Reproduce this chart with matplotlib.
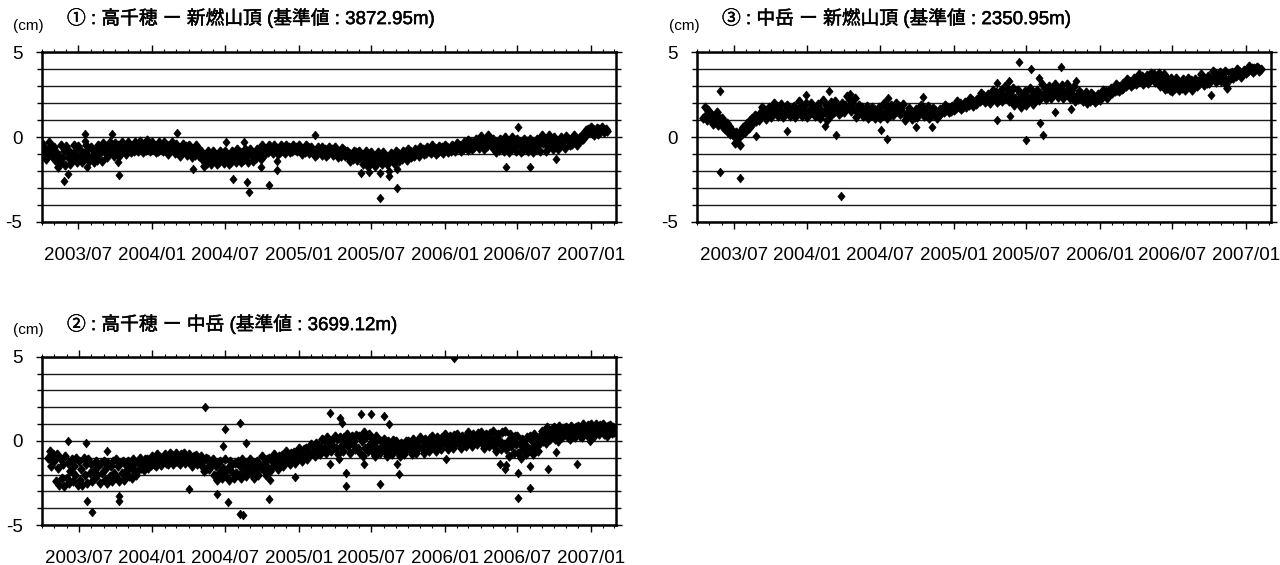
import numpy as np
import pandas as pd
import matplotlib
matplotlib.use("Agg")
import matplotlib.pyplot as plt
import matplotlib.dates as mdates
import matplotlib.patheffects as pe
from matplotlib.ticker import FixedLocator

nan = np.nan

# ---------------- data (cm), ten readings per month, 3 days apart ----------------
months = pd.date_range("2003-04-01", "2007-02-01", freq="MS")  # 47 months
day_steps = [0, 3, 6, 9, 12, 15, 18, 21, 24, 27]

# Panel 1 : 高千穂 - 新燃山頂
p1_rows = [
    [-0.35, -0.95, -0.6, -1.3, -0.75, -1.1, -0.3, -0.9, -0.55, -1.2],    # 2003-04
    [-0.6, -1.35, -0.9, -1.8, -1.1, -1.55, -0.5, -1.25, -0.8, -1.65],
    [-0.55, -1.2, -0.85, -1.6, -1.0, -1.4, -0.5, -1.15, -0.75, -1.5],
    [-0.55, -1.1, -0.8, -1.5, -0.95, -1.3, -0.5, -1.05, -0.7, -1.4],     # 2003-07
    [-0.6, -1.1, -0.75, -1.5, -0.9, -1.35, -0.5, -1.0, -0.7, -1.4],
    [-0.35, -0.85, -0.55, -1.2, -0.7, -1.0, -0.3, -0.8, -0.5, -1.1],
    [-0.35, -0.8, -0.5, -1.1, -0.65, -0.95, -0.3, -0.75, -0.5, -1.0],
    [-0.3, -0.65, -0.45, -0.9, -0.55, -0.8, -0.3, -0.6, -0.45, -0.85],
    [-0.25, -0.6, -0.4, -0.9, -0.5, -0.75, -0.2, -0.55, -0.4, -0.85],
    [-0.3, -0.65, -0.45, -0.9, -0.55, -0.8, -0.3, -0.6, -0.45, -0.85],   # 2004-01
    [-0.3, -0.7, -0.5, -1.0, -0.6, -0.85, -0.3, -0.65, -0.45, -0.95],
    [-0.4, -0.8, -0.6, -1.1, -0.7, -0.95, -0.4, -0.75, -0.55, -1.05],
    [-0.5, -0.9, -0.7, -1.2, -0.8, -1.05, -0.5, -0.85, -0.65, -1.15],
    [-0.85, -1.3, -1.05, -1.7, -1.2, -1.55, -0.8, -1.25, -1.0, -1.6],
    [-0.8, -1.25, -1.0, -1.6, -1.15, -1.45, -0.8, -1.2, -0.95, -1.55],
    [-0.85, -1.25, -1.05, -1.6, -1.15, -1.45, -0.8, -1.2, -1.0, -1.5],   # 2004-07
    [-0.7, -1.15, -0.9, -1.5, -1.05, -1.35, -0.7, -1.1, -0.85, -1.45],
    [-0.7, -1.05, -0.9, -1.4, -1.0, -1.25, -0.7, -1.0, -0.85, -1.3],
    [-0.5, -0.8, -0.65, -1.0, -0.75, -0.9, -0.5, -0.75, -0.6, -0.95],
    [-0.5, -0.75, -0.65, -1.0, -0.7, -0.9, -0.5, -0.8, -0.6, -0.95],
    [-0.5, -0.75, -0.6, -0.9, -0.7, -0.85, -0.5, -0.7, -0.6, -0.85],
    [-0.5, -0.8, -0.65, -1.0, -0.7, -0.9, -0.5, -0.75, -0.6, -0.95],     # 2005-01
    [-0.6, -0.9, -0.75, -1.1, -0.8, -1.0, -0.6, -0.85, -0.7, -1.05],
    [-0.6, -0.9, -0.7, -1.1, -0.85, -1.0, -0.6, -0.85, -0.7, -1.05],
    [-0.6, -0.95, -0.8, -1.2, -0.9, -1.1, -0.65, -0.9, -0.75, -1.15],
    [-0.8, -1.1, -0.95, -1.4, -1.05, -1.3, -0.8, -1.1, -0.9, -1.35],
    [-0.85, -1.2, -1.0, -1.6, -1.15, -1.45, -0.8, -1.25, -1.0, -1.55],
    [-0.9, -1.3, -1.1, -1.7, -1.25, -1.55, -0.9, -1.3, -1.05, -1.6],     # 2005-07
    [-0.9, -1.25, -1.1, -1.6, -1.2, -1.5, -0.95, -1.3, -1.05, -1.55],
    [-0.8, -1.1, -0.95, -1.4, -1.05, -1.3, -0.8, -1.1, -0.9, -1.35],
    [-0.7, -0.95, -0.85, -1.2, -0.9, -1.1, -0.7, -0.95, -0.8, -1.15],
    [-0.6, -0.8, -0.7, -1.0, -0.8, -0.95, -0.6, -0.85, -0.7, -0.95],
    [-0.5, -0.8, -0.65, -1.0, -0.7, -0.9, -0.55, -0.8, -0.6, -0.95],
    [-0.5, -0.75, -0.6, -0.9, -0.7, -0.85, -0.5, -0.7, -0.6, -0.85],     # 2006-01
    [-0.35, -0.6, -0.45, -0.8, -0.55, -0.7, -0.3, -0.6, -0.4, -0.75],
    [-0.15, -0.45, -0.3, -0.7, -0.4, -0.6, -0.1, -0.45, -0.25, -0.65],
    [0.05, -0.35, -0.15, -0.7, -0.3, -0.55, 0.1, -0.3, -0.1, -0.6],
    [-0.1, -0.5, -0.3, -0.9, -0.45, -0.75, -0.1, -0.5, -0.25, -0.8],
    [0.0, -0.45, -0.25, -0.9, -0.4, -0.7, 0.0, -0.5, -0.2, -0.8],
    [-0.1, -0.5, -0.3, -0.9, -0.45, -0.75, -0.1, -0.5, -0.25, -0.85],    # 2006-07
    [-0.1, -0.45, -0.3, -0.9, -0.4, -0.7, -0.1, -0.5, -0.25, -0.8],
    [0.1, -0.35, -0.15, -0.8, -0.3, -0.6, 0.1, -0.4, -0.1, -0.7],
    [0.0, -0.35, -0.2, -0.7, -0.3, -0.55, 0.0, -0.35, -0.15, -0.65],
    [0.05, -0.2, -0.1, -0.5, -0.25, -0.4, 0.1, -0.2, -0.05, -0.45],
    [-0.3, 0.0, -0.15, 0.1, -0.1, 0.25, 0.4, 0.15, 0.5, 0.3],
    [0.6, 0.25, 0.45, 0.1, 0.35, 0.55, 0.2, 0.5, 0.3, 0.6],              # 2007-01
    [0.5, 0.3, 0.45, 0.35, nan, nan, nan, nan, nan, nan],
]
p1_out_dates = ["2003-05-27", "2003-06-06", "2003-07-17", "2003-07-17", "2003-07-23",
                "2003-09-24", "2003-10-07", "2003-10-11", "2004-03-03", "2004-04-13",
                "2004-07-03", "2004-07-21", "2004-08-18", "2004-08-26", "2004-08-29",
                "2004-09-29", "2004-10-18", "2004-11-09", "2004-11-09", "2005-02-10",
                "2005-06-06", "2005-06-24", "2005-06-26", "2005-07-24", "2005-07-24",
                "2005-08-14", "2005-08-16", "2005-09-04", "2005-09-04", "2006-06-03",
                "2006-07-02", "2006-08-02", "2006-10-05"]
p1_out_vals = [-2.6, -2.2, 0.15, -0.25, -1.8,
               0.15, -1.5, -2.25, 0.25, -1.9,
               -0.3, -2.45, -0.3, -2.65, -3.25,
               -1.8, -2.85, -1.4, -1.95, 0.1,
               -2.15, -1.8, -2.05, -3.6, -2.15,
               -2.3, -2.0, -3.0, -1.9, -1.8,
               0.6, -1.75, -1.3]

# Panel 3 : 中岳 - 新燃山頂
p3_rows = [
    [nan, nan, nan, nan, nan, 1.1, 1.8, 1.3, 1.0, 1.6],                  # 2003-04
    [1.5, 1.0, 1.3, 0.75, 1.2, 0.9, 1.45, 0.7, 1.1, 0.85],
    [1.1, 0.6, 0.9, 0.45, 0.8, 0.3, 0.65, 0.2, 0.5, 0.1],
    [0.1, -0.35, 0.3, -0.1, 0.0, -0.45, 0.4, 0.15, 0.6, 0.3],            # 2003-07
    [0.4, 0.8, 0.55, 1.0, 0.7, 1.15, 0.85, 1.3, 0.95, 1.2],
    [1.0, 1.4, 1.2, 1.75, 1.3, 1.6, 1.05, 1.5, 1.25, 1.8],
    [1.2, 1.6, 1.4, 2.0, 1.5, 1.85, 1.25, 1.7, 1.45, 1.95],
    [1.2, 1.55, 1.4, 1.9, 1.5, 1.75, 1.25, 1.65, 1.4, 1.85],
    [1.2, 1.6, 1.4, 2.1, 1.55, 1.85, 1.25, 1.7, 1.45, 2.0],
    [1.2, 1.6, 1.4, 2.0, 1.5, 1.8, 1.25, 1.65, 1.4, 1.95],               # 2004-01
    [1.1, 1.6, 1.35, 2.2, 1.5, 1.9, 1.0, 1.7, 1.3, 2.05],
    [1.3, 1.7, 1.5, 2.1, 1.6, 1.9, 1.35, 1.75, 1.5, 2.0],
    [1.5, 1.9, 1.7, 2.4, 1.8, 2.2, 1.55, 2.0, 1.7, 2.3],
    [1.2, 1.55, 1.4, 1.9, 1.5, 1.75, 1.25, 1.6, 1.35, 1.85],
    [1.1, 1.45, 1.3, 1.8, 1.4, 1.65, 1.15, 1.5, 1.25, 1.75],
    [1.1, 1.5, 1.3, 2.0, 1.45, 1.8, 1.15, 1.6, 1.3, 1.9],                # 2004-07
    [1.3, 1.65, 1.5, 2.0, 1.55, 1.85, 1.35, 1.7, 1.45, 1.95],
    [1.0, 1.35, 1.2, 1.7, 1.3, 1.55, 1.05, 1.4, 1.2, 1.65],
    [1.2, 1.55, 1.4, 1.9, 1.5, 1.75, 1.25, 1.6, 1.35, 1.85],
    [1.1, 1.4, 1.3, 1.7, 1.35, 1.6, 1.15, 1.45, 1.3, 1.65],
    [1.4, 1.65, 1.5, 1.9, 1.6, 1.8, 1.45, 1.7, 1.55, 1.85],
    [1.6, 1.85, 1.7, 2.1, 1.8, 2.0, 1.65, 1.9, 1.75, 2.05],              # 2005-01
    [1.8, 2.05, 1.9, 2.3, 2.0, 2.2, 1.85, 2.1, 1.95, 2.25],
    [2.0, 2.3, 2.15, 2.6, 2.25, 2.5, 2.05, 2.35, 2.2, 2.55],
    [2.0, 2.4, 2.2, 2.8, 2.3, 2.65, 2.05, 2.5, 2.2, 2.75],
    [2.1, 2.5, 2.3, 3.0, 2.45, 2.8, 2.15, 2.6, 2.35, 2.9],
    [1.9, 2.3, 2.1, 2.8, 2.2, 2.6, 1.8, 2.4, 2.05, 2.7],
    [1.9, 2.4, 2.15, 2.9, 2.3, 2.7, 1.95, 2.5, 2.2, 2.8],                # 2005-07
    [2.2, 2.6, 2.4, 3.1, 2.5, 2.9, 2.25, 2.7, 2.45, 3.0],
    [2.3, 2.7, 2.5, 3.1, 2.6, 2.95, 2.35, 2.75, 2.5, 3.05],
    [2.3, 2.65, 2.45, 3.1, 2.6, 2.9, 2.3, 2.75, 2.5, 3.0],
    [2.1, 2.4, 2.25, 2.7, 2.35, 2.6, 2.15, 2.45, 2.3, 2.65],
    [2.0, 2.3, 2.15, 2.6, 2.25, 2.5, 2.05, 2.35, 2.2, 2.55],
    [2.2, 2.5, 2.35, 2.8, 2.45, 2.7, 2.3, 2.6, 2.5, 2.9],                # 2006-01
    [2.6, 2.85, 2.7, 3.1, 2.8, 3.0, 2.7, 2.95, 2.85, 3.2],
    [2.9, 3.15, 3.0, 3.4, 3.1, 3.3, 3.0, 3.25, 3.15, 3.5],
    [3.1, 3.4, 3.25, 3.7, 3.35, 3.6, 3.15, 3.45, 3.3, 3.65],
    [3.2, 3.5, 3.35, 3.8, 3.45, 3.7, 3.25, 3.55, 3.4, 3.75],
    [3.0, 3.4, 3.2, 3.7, 2.85, 3.55, 2.9, 3.3, 2.8, 3.5],
    [2.7, 3.1, 2.9, 3.5, 3.0, 3.3, 2.75, 3.2, 2.9, 3.4],                 # 2006-07
    [2.75, 3.1, 2.95, 3.5, 3.05, 3.35, 2.8, 3.2, 2.95, 3.45],
    [3.0, 3.3, 3.15, 3.7, 3.25, 3.55, 3.05, 3.4, 3.2, 3.6],
    [3.2, 3.5, 3.35, 3.9, 3.45, 3.75, 3.25, 3.6, 3.4, 3.85],
    [3.3, 3.6, 3.45, 3.9, 3.1, 2.9, 3.4, 3.75, 3.5, 3.85],
    [3.5, 3.75, 3.6, 4.0, 3.7, 3.9, 3.55, 3.8, 3.7, 3.95],
    [3.8, 4.0, 3.9, 4.2, 3.95, 4.1, 3.85, 4.05, 3.95, 4.15],             # 2007-01
    [4.05, 3.9, 4.0, nan, nan, nan, nan, nan, nan, nan],
]
p3_out_dates = ["2003-05-28", "2003-05-28", "2003-07-17", "2003-08-26", "2003-11-10",
                "2003-12-29", "2004-02-13", "2004-02-25", "2004-03-13", "2004-03-25",
                "2004-04-17", "2004-07-03", "2004-07-18", "2004-07-21", "2004-09-29",
                "2004-10-15", "2004-11-08", "2005-04-19", "2005-04-19", "2005-05-20",
                "2005-05-22", "2005-06-14", "2005-06-30", "2005-07-13", "2005-08-03",
                "2005-08-05", "2005-08-13", "2005-09-12", "2005-09-26", "2005-10-21",
                "2005-11-02", "2006-10-07"]
p3_out_vals = [2.7, -2.05, -2.4, 0.05, 0.35,
               2.5, 0.65, 2.7, 0.1, -3.5,
               2.55, 0.4, -0.1, 2.3, 0.6,
               2.35, 0.6, 1.0, 3.2, 3.3,
               1.25, 4.4, -0.15, 4.0, 3.5,
               0.85, 0.1, 1.45, 4.15, 1.65,
               3.3, 2.45]

# Panel 2 : 高千穂 - 中岳
p2_rows = [
    [nan, nan, nan, nan, nan, -1.0, -0.6, -1.5, -1.2, -0.8],             # 2003-04
    [-1.2, -2.4, -0.8, -1.6, -2.6, -1.0, -2.2, -1.4, -2.7, -0.9],
    [-2.2, -1.3, -2.5, -1.8, -1.1, -2.4, -1.5, -2.0, -1.0, -2.6],
    [-1.2, -2.3, -1.7, -2.6, -1.0, -2.0, -1.4, -2.5, -1.1, -1.9],        # 2003-07
    [-1.4, -2.4, -1.8, -2.2, -1.2, -2.0, -1.5, -2.5, -1.3, -1.9],
    [-1.2, -2.3, -1.6, -2.5, -1.3, -2.1, -1.5, -2.4, -1.2, -1.9],
    [-1.1, -2.2, -1.5, -2.4, -1.3, -1.9, -1.2, -2.3, -1.4, -1.8],
    [-1.2, -2.1, -1.5, -2.2, -1.1, -1.8, -1.3, -2.0, -1.2, -1.7],
    [-1.0, -1.6, -1.3, -1.75, -1.1, -1.5, -1.05, -1.6, -1.2, -1.45],
    [-0.9, -1.4, -1.1, -1.5, -0.8, -1.25, -0.95, -1.45, -1.05, -1.2],    # 2004-01
    [-0.8, -1.3, -1.0, -1.4, -0.7, -1.15, -0.85, -1.35, -0.95, -1.2],
    [-0.75, -1.25, -0.95, -1.4, -0.8, -1.1, -0.7, -1.3, -0.9, -1.15],
    [-0.8, -1.3, -1.0, -1.5, -0.9, -1.2, -0.85, -1.4, -1.0, -1.25],
    [-0.9, -1.5, -1.2, -1.8, -1.0, -1.6, -1.1, -1.7, -1.3, -1.4],
    [-1.1, -2.0, -1.5, -2.3, -1.3, -1.9, -1.2, -2.2, -1.6, -1.8],
    [-1.1, -2.1, -1.6, -2.3, -1.2, -1.8, -1.4, -2.2, -1.3, -1.9],        # 2004-07
    [-1.2, -2.0, -1.5, -2.2, -1.1, -1.8, -1.3, -2.1, -1.4, -1.7],
    [-1.1, -1.9, -1.4, -2.2, -1.3, -1.7, -1.2, -2.0, -1.5, -1.6],
    [-0.9, -1.7, -1.3, -2.0, -1.1, -1.6, -1.0, -1.8, -1.2, -1.5],
    [-0.8, -1.4, -1.1, -1.7, -0.9, -1.3, -0.85, -1.5, -1.0, -1.2],
    [-0.6, -1.2, -0.9, -1.4, -0.7, -1.1, -0.65, -1.3, -0.8, -1.0],
    [-0.4, -1.0, -0.6, -1.2, -0.5, -0.9, -0.45, -1.1, -0.6, -0.8],       # 2005-01
    [-0.2, -0.7, -0.3, -0.9, -0.1, -0.6, -0.25, -0.8, -0.35, -0.5],
    [0.1, -0.5, 0.0, -0.7, 0.2, -0.4, -0.1, -0.6, 0.05, -0.3],
    [0.3, -0.4, 0.1, -0.8, 0.2, -0.3, 0.0, -0.6, 0.25, -0.2],
    [0.4, -0.3, 0.1, -0.7, 0.3, -0.2, 0.0, -0.5, 0.35, -0.4],
    [0.3, -0.7, 0.0, -0.9, 0.5, -0.4, 0.2, -0.6, 0.4, -0.2],
    [0.2, -0.6, -0.1, -0.9, 0.3, -0.5, 0.1, -0.7, 0.0, -0.3],            # 2005-07
    [0.1, -0.6, -0.3, -0.9, 0.0, -0.5, -0.2, -0.8, 0.05, -0.4],
    [0.0, -0.6, -0.3, -0.9, -0.1, -0.5, -0.2, -0.8, 0.0, -0.4],
    [0.0, -0.5, -0.2, -0.8, 0.1, -0.45, -0.15, -0.7, 0.05, -0.35],
    [0.2, -0.4, 0.0, -0.7, 0.1, -0.3, -0.05, -0.6, 0.15, -0.25],
    [0.3, -0.3, 0.05, -0.6, 0.2, -0.2, 0.0, -0.5, 0.25, -0.15],
    [0.4, -0.2, 0.1, -0.5, 0.3, -0.1, 0.05, -0.4, 0.35, -0.05],          # 2006-01
    [0.4, -0.1, 0.15, -0.4, 0.3, 0.0, 0.1, -0.3, 0.35, 0.05],
    [0.5, 0.0, 0.25, -0.3, 0.4, 0.05, 0.2, -0.2, 0.45, 0.1],
    [0.5, -0.1, 0.2, -0.4, 0.4, 0.0, 0.15, -0.3, 0.45, 0.05],
    [0.6, -0.3, 0.1, -0.6, 0.4, -0.1, 0.0, -0.5, 0.5, -0.2],
    [0.6, -0.5, 0.0, -0.9, 0.4, -0.3, 0.1, -0.7, 0.3, -0.2],
    [0.3, -0.7, -0.2, -1.0, 0.1, -0.5, -0.1, -0.8, 0.2, -0.4],           # 2006-07
    [0.3, -0.5, 0.0, -0.8, 0.4, -0.3, 0.1, -0.6, 0.2, -0.1],
    [0.6, 0.0, 0.4, -0.1, 0.8, 0.2, 0.5, 0.1, 0.7, 0.3],
    [0.8, 0.1, 0.5, 0.0, 0.9, 0.3, 0.6, 0.2, 0.75, 0.4],
    [0.85, 0.2, 0.6, 0.1, 0.9, 0.4, 0.7, 0.25, 0.8, 0.45],
    [0.9, 0.3, 0.7, 0.2, 1.0, 0.5, 0.8, 0.35, 0.95, 0.55],
    [1.0, 0.35, 0.7, 0.3, 1.0, 0.55, 0.85, 0.4, 0.95, 0.6],              # 2007-01
    [1.0, 0.4, 0.8, 0.3, 0.9, 0.6, 0.95, 0.45, 0.85, 0.55],
]
p2_out_dates = ["2003-06-04", "2003-07-18", "2003-07-22", "2003-08-03", "2003-09-10",
                "2003-10-09", "2003-10-09", "2004-04-01", "2004-05-11", "2004-06-11",
                "2004-06-26", "2004-06-30", "2004-07-08", "2004-08-08", "2004-08-08",
                "2004-08-15", "2004-08-23", "2004-10-18", "2004-10-20", "2004-12-22",
                "2005-03-19", "2005-03-21", "2005-04-11", "2005-04-15", "2005-04-20",
                "2005-04-30", "2005-04-30", "2005-06-05", "2005-06-12", "2005-06-30",
                "2005-07-24", "2005-08-01", "2005-08-15", "2005-09-03", "2005-09-09",
                "2006-01-04", "2006-01-23", "2006-05-18", "2006-06-01", "2006-06-03",
                "2006-07-02", "2006-07-03", "2006-08-02", "2006-08-02", "2006-09-17",
                "2006-10-05", "2006-11-27", "2006-12-29"]
p2_out_vals = [0.0, -0.15, -3.55, -4.25, -0.6,
               -3.3, -3.6, -2.85, 2.0, -3.15,
               -0.3, 0.7, -3.65, 1.05, -4.35,
               -4.4, -0.1, -3.45, -2.3, -2.15,
               -1.4, 1.65, -1.05, 1.35, 1.05,
               -1.9, -2.7, 1.6, -1.35, 1.6,
               -2.55, 1.5, 1.0, -1.35, -1.95,
               -1.05, 4.95, -1.4, -1.65, -1.45,
               -3.4, -1.9, -1.5, -2.8, -1.65,
               -0.65, -1.35, 0.0]

titles = ["\u2460 : 高千穂 ー 新燃山頂 (基準値 : 3872.95m)",
          "\u2462 : 中岳 ー 新燃山頂 (基準値 : 2350.95m)",
          "\u2461 : 高千穂 ー 中岳 (基準値 : 3699.12m)"]
unit_label = "(cm)"
y_major = [-5, 0, 5]
y_minor = [-4, -3, -2, -1, 1, 2, 3, 4]

# ---------------- figure ----------------
W, H = 1280, 565
fig = plt.figure(figsize=(W / 100, H / 100), dpi=100)
fig.patch.set_facecolor("white")
latin = ["Liberation Sans", "DejaVu Sans"]

def px_axes(l, t, r, b):
    return fig.add_axes([l / W, 1 - b / H, (r - l) / W, (b - t) / H])

diamond = [(0, 1), (0.82, 0), (0, -1), (-0.82, 0), (0, 1)]

def series(rows):
    xs, ys = [], []
    for m, row in zip(months, rows):
        for d, v in zip(day_steps, row):
            if not np.isnan(v):
                xs.append(m + pd.Timedelta(days=d))
                ys.append(v)
    return xs, ys

def draw(ax, rows, out_dates, out_vals):
    xs, ys = series(rows)
    ax.plot(xs, ys, linestyle="none", marker=diamond, ms=6.6, color="black",
            mec="black", mew=0.8, zorder=3)
    ax.plot(pd.to_datetime(out_dates), out_vals, linestyle="none", marker=diamond,
            ms=6.4, color="black", mec="black", mew=0.4, zorder=3)
    ax.set_xlim(pd.Timestamp("2003-04-01"), pd.Timestamp("2007-03-05"))
    ax.set_ylim(-5, 5)
    ax.yaxis.set_major_locator(FixedLocator(y_major))
    ax.yaxis.set_minor_locator(FixedLocator(y_minor))
    ax.set_yticklabels([str(v) for v in y_major])
    ax.xaxis.set_major_locator(mdates.MonthLocator(bymonth=[1, 7]))
    ax.xaxis.set_minor_locator(mdates.MonthLocator())
    ax.xaxis.set_major_formatter(mdates.DateFormatter("%Y/%m"))
    ax.tick_params(axis="x", which="major", direction="out", length=5, width=1.0,
                   top=True, bottom=True, pad=13, labelsize=13.5)
    ax.tick_params(axis="x", which="minor", direction="out", length=2, width=0.8,
                   top=True, bottom=True)
    ax.tick_params(axis="y", which="major", direction="out", length=4.2, width=1.0,
                   left=True, right=True, pad=10, labelsize=13.5)
    ax.tick_params(axis="y", which="minor", direction="out", length=3.5, width=1.0,
                   left=True, right=True)
    ax.grid(True, axis="y", which="both", color="#1a1a1a", linewidth=1.0, zorder=1)
    ax.set_axisbelow(True)
    for sp in ax.spines.values():
        sp.set_linewidth(1.8)
        sp.set_color("black")
    for lab in ax.get_xticklabels() + ax.get_yticklabels():
        lab.set_family(latin)

ax1 = px_axes(42, 52.3, 616, 221.7)
ax3 = px_axes(697.3, 52.3, 1271, 221.7)
ax2 = px_axes(42.3, 356.7, 616, 525)

draw(ax1, p1_rows, p1_out_dates, p1_out_vals)
draw(ax3, p3_rows, p3_out_dates, p3_out_vals)
draw(ax2, p2_rows, p2_out_dates, p2_out_vals)

title_fam = ["Liberation Sans", "Noto Sans CJK JP", "DejaVu Sans"]
thick = [pe.withStroke(linewidth=0.35, foreground="black")]

def ftext(x, y, s, **kw):
    fig.text(x / W, 1 - y / H, s, va="center", ha="left", **kw)

ftext(67, 18, titles[0], fontsize=13.5, family=title_fam, path_effects=thick)
ftext(722, 18, titles[1], fontsize=13.5, family=title_fam, path_effects=thick)
ftext(67, 324, titles[2], fontsize=13.5, family=title_fam, path_effects=thick)
ftext(13, 26, unit_label, fontsize=11, family=latin)
ftext(669, 26, unit_label, fontsize=11, family=latin)
ftext(13, 330, unit_label, fontsize=11, family=latin)

fig.savefig("out.png", dpi=100, facecolor="white")
